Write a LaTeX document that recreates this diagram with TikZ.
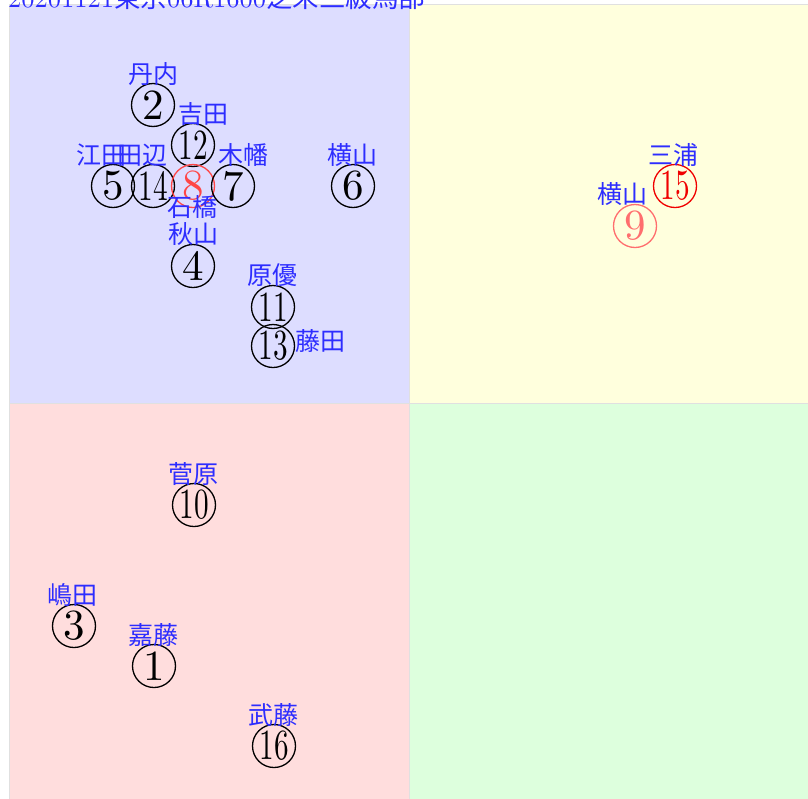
\documentclass[tikz,border=0pt]{standalone}
\usepackage{fontspec}
\usepackage{graphicx}
\newfontfamily\cjk{Noto Sans CJK JP}
\newfontfamily\numfont{lmroman10-regular.otf}
\definecolor{lblblue}{RGB}{45,45,255}
\definecolor{qblue}{RGB}{221,221,255}
\definecolor{qyellow}{RGB}{255,255,221}
\definecolor{qpink}{RGB}{255,221,221}
\definecolor{qgreen}{RGB}{221,255,221}
\definecolor{redA}{RGB}{255,70,70}
\definecolor{redB}{RGB}{240,0,0}
\definecolor{redC}{RGB}{255,110,110}
\newcommand\twodig[1]{\scalebox{0.68}[1]{#1}}
\begin{document}
\begin{tikzpicture}[x=1pt,y=-1pt,
  quad/.style={draw=black!12, line width=0.6pt},
  lbl/.style={inner sep=0pt, text=lblblue, font=\cjk\fontsize{25}{25}\selectfont},
  num/.style={circle, draw=black, text=black, line width=1.3pt, minimum size=43pt, inner sep=0pt, font=\numfont\fontsize{43}{43}\selectfont},
  numA/.style={num, draw=redA, text=redA},
  numB/.style={num, draw=redB, text=redB},
  numC/.style={num, draw=redC, text=redC}]
\useasboundingbox (0,0) rectangle (808,798);
\fill[white] (0,0) rectangle (808,798);
% quadrants
\path[quad, fill=qblue] (9,4) rectangle (409.5,403.5);
\path[quad, fill=qyellow] (409.5,4) rectangle (810,403.5);
\path[quad, fill=qpink] (9,403.5) rectangle (409.5,804);
\path[quad, fill=qgreen] (409.5,403.5) rectangle (810,804);
% title
\node[anchor=base west, inner sep=0pt, text=lblblue, font=\numfont\fontsize{26.5}{26.5}\selectfont] (title) at (8,7.5) {20201121{\cjk 東京}06R1600{\cjk 芝未三級馬部}};
% runners
\node[num] (n2) at (153,105) {2};
\node[lbl] (l2) at (153,74) {丹内};
\node[num] (n12) at (193,145) {\twodig{12}};
\node[lbl] (l12) at (203,114) {吉田};
\node[num] (n5) at (113,186) {5};
\node[lbl] (l5) at (101,155) {江田};
\node[num] (n14) at (153,186) {\twodig{14}};
\node[lbl] (l14) at (142,155) {田辺};
\node[numA] (n8) at (193,186) {8};
\node[lbl] (l8) at (192,207) {石橋};
\node[num] (n7) at (233,186) {7};
\node[lbl] (l7) at (243,155) {木幡};
\node[num] (n6) at (353,186) {6};
\node[lbl] (l6) at (352,155) {横山};
\node[num] (n4) at (193,266) {4};
\node[lbl] (l4) at (193,234) {秋山};
\node[num] (n11) at (273,307) {\twodig{11}};
\node[lbl] (l11) at (272,275) {原優};
\node[num] (n13) at (273,346) {\twodig{13}};
\node[lbl] (l13) at (320,341) {藤田};
\node[numB] (n15) at (675,186) {\twodig{15}};
\node[lbl] (l15) at (673,155) {三浦};
\node[numC] (n9) at (635,226) {9};
\node[lbl] (l9) at (622,194) {横山};
\node[num] (n10) at (194,505) {\twodig{10}};
\node[lbl] (l10) at (193,474) {菅原};
\node[num] (n3) at (74,626) {3};
\node[lbl] (l3) at (72,595) {嶋田};
\node[num] (n1) at (154,666) {1};
\node[lbl] (l1) at (153,635) {嘉藤};
\node[num] (n16) at (274,746) {\twodig{16}};
\node[lbl] (l16) at (273,715) {武藤};
\end{tikzpicture}
\end{document}
